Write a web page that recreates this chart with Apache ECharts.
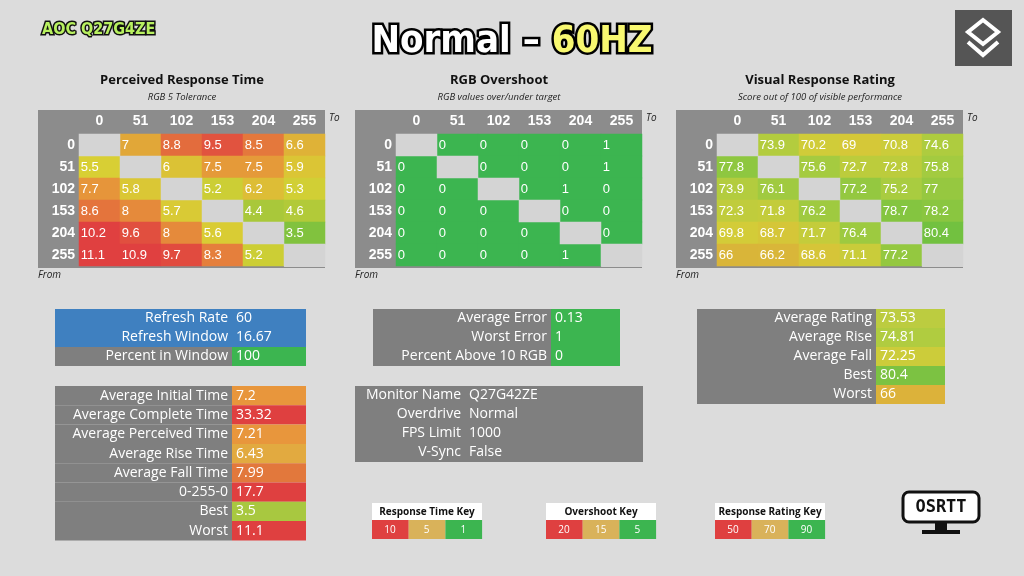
<!DOCTYPE html>
<html><head><meta charset="utf-8">
<script src="https://cdn.jsdelivr.net/npm/echarts@6/dist/echarts.min.js"></script>
<style>html,body{margin:0;padding:0;background:#dcdcdc}#c{width:1024px;height:576px}</style>
</head><body><div id="c"></div>
<script>
const levels = ['0', '51', '102', '153', '204', '255'];
// rows = from, cols = to ; null = diagonal
const responseTimes = [
  [null, 7, 8.8, 9.5, 8.5, 6.6],
  [5.5, null, 6, 7.5, 7.5, 5.9],
  [7.7, 5.8, null, 5.2, 6.2, 5.3],
  [8.6, 8, 5.7, null, 4.4, 4.6],
  [10.2, 9.6, 8, 5.6, null, 3.5],
  [11.1, 10.9, 9.7, 8.3, 5.2, null]
];
const overshoot = [
  [null, 0, 0, 0, 0, 1],
  [0, null, 0, 0, 0, 1],
  [0, 0, null, 0, 1, 0],
  [0, 0, 0, null, 0, 0],
  [0, 0, 0, 0, null, 0],
  [0, 0, 0, 0, 1, null]
];
const ratings = [
  [null, 73.9, 70.2, 69, 70.8, 74.6],
  [77.8, null, 75.6, 72.7, 72.8, 75.8],
  [73.9, 76.1, null, 77.2, 75.2, 77],
  [72.3, 71.8, 76.2, null, 78.7, 78.2],
  [69.8, 68.7, 71.7, 76.4, null, 80.4],
  [66, 66.2, 68.6, 71.1, 77.2, null]
];

const refreshLabels = ['Refresh Rate', 'Refresh Window', 'Percent in Window'];
const refreshValues = ['60', '16.67', '100'];
const timeLabels = ['Average Initial Time', 'Average Complete Time', 'Average Perceived Time', 'Average Rise Time', 'Average Fall Time', '0-255-0', 'Best', 'Worst'];
const timeValues = ['7.2', '33.32', '7.21', '6.43', '7.99', '17.7', '3.5', '11.1'];
const errorLabels = ['Average Error', 'Worst Error', 'Percent Above 10 RGB'];
const errorValues = ['0.13', '1', '0'];
const monitorLabels = ['Monitor Name', 'Overdrive', 'FPS Limit', 'V-Sync'];
const monitorValues = ['Q27G42ZE', 'Normal', '1000', 'False'];
const ratingLabels = ['Average Rating', 'Average Rise', 'Average Fall', 'Best', 'Worst'];
const ratingValues = ['73.53', '74.81', '72.25', '80.4', '66'];
const timeKey = ['10', '5', '1'];
const overshootKey = ['20', '15', '5'];
const ratingKey = ['50', '70', '90'];

const RED = '#df4040', GRN = '#3cb550', BLUE = '#3f80c0', GREY = '#7f7f7f';

function cells(m, diag) {
  const out = [];
  m.forEach((row, r) => row.forEach((v, c) => {
    if ((v === null) === diag) out.push([c, r, v === null ? 0 : v]);
  }));
  return out;
}

const grids = [{ left: 79, top: 134, width: 246, height: 132 },
  { left: 396, top: 134, width: 246, height: 132 },
  { left: 717, top: 134, width: 246, height: 132 }];
const mats = [responseTimes, overshoot, ratings];

const xAxis = [], yAxis = [], series = [];
grids.forEach((g, i) => {
  xAxis.push({ type: 'category', gridIndex: i, data: levels, position: 'top',
    axisLine: { show: false }, axisTick: { show: false }, splitLine: { show: false },
    axisLabel: { color: '#fff', fontWeight: 'bold', fontSize: 14, margin: 6 } });
  yAxis.push({ type: 'category', gridIndex: i, data: levels, inverse: true,
    axisLine: { show: false }, axisTick: { show: false }, splitLine: { show: false },
    axisLabel: { color: '#fff', fontWeight: 'bold', fontSize: 14, margin: 4 } });
  series.push({ type: 'heatmap', xAxisIndex: i, yAxisIndex: i, data: cells(mats[i], false),
    label: { show: true, position: 'insideLeft', color: '#fff', fontSize: 13, distance: 2,
      formatter: p => p.value[2] },
    itemStyle: { borderWidth: 0 } });
  series.push({ type: 'heatmap', xAxisIndex: i, yAxisIndex: i, data: cells(mats[i], true),
    itemStyle: { color: '#d4d4d4' } });
});

const visualMap = [
  { show: false, seriesIndex: 0, min: 3.2, max: 10, inRange: { color: ['#74c040', '#d8d034', '#e6943a', '#e04040'] } },
  { show: false, seriesIndex: 2, min: 0, max: 20, inRange: { color: ['#3cb550', '#3cb550', '#d9b25a', '#df4040'] } },
  { show: false, seriesIndex: 4, min: 64, max: 81, inRange: { color: ['#dca83a', '#d4cc38', '#a8cc40', '#6cc040'] } }
];

const graphic = [];
function rect(x, y, w, h, fill, z) { graphic.push({ type: 'rect', shape: { x, y, width: w, height: h }, style: { fill }, z: z || 0, silent: true }); }
function text(x, y, t, o, z) { graphic.push({ type: 'text', x, y, style: Object.assign({ text: t, fill: '#fff', fontSize: 14, fontFamily: 'Open Sans', verticalAlign: 'middle' }, o), z: z || 5, silent: true }); }

// heatmap frames + headings
const frames = [38, 355, 676];
const heads = [['Perceived Response Time', 'RGB 5 Tolerance'], ['RGB Overshoot', 'RGB values over/under target'], ['Visual Response Rating', 'Score out of 100 of visible performance']];
frames.forEach((x, i) => {
  rect(x, 110, 287, 158, '#8c8c8c');
  rect(grids[i].left + 205, 245, 41, 22, '#d4d4d4', 1);
  text(x + 144, 80, heads[i][0], { fill: '#111', fontWeight: 'bold', fontSize: 13, align: 'center' });
  text(x + 144, 97, heads[i][1], { fill: '#222', fontStyle: 'italic', fontSize: 9.5, align: 'center' });
  text(x + 291, 118, 'To', { fill: '#222', fontStyle: 'italic', fontSize: 10 });
  text(x, 275, 'From', { fill: '#222', fontStyle: 'italic', fontSize: 10 });
});

function table(x, y, w1, w2, h, labels, values, lc, vc) {
  labels.forEach((l, i) => {
    const yy = y + i * h;
    rect(x, yy, w1, h, lc[i]);
    rect(x + w1, yy, w2, h, vc[i]);
    text(x + w1 - 4, yy + h / 2, l, { align: 'right' });
    text(x + w1 + 4, yy + h / 2, values[i], {});
  });
}
table(55, 309, 177, 74, 19, refreshLabels, refreshValues, [BLUE, BLUE, GREY], [BLUE, BLUE, GRN]);
table(55, 386, 177, 74, 19.3, timeLabels, timeValues, Array(8).fill(GREY),
  ['#e8963c', RED, '#e8963c', '#e2aa40', '#e2783c', RED, '#a8c840', RED]);
table(373, 309, 178, 69, 19, errorLabels, errorValues, Array(3).fill(GREY), Array(3).fill(GRN));
table(355, 386, 110, 178, 19, monitorLabels, monitorValues, Array(4).fill(GREY), Array(4).fill(GREY));
table(697, 309, 179, 69, 19, ratingLabels, ratingValues, Array(5).fill(GREY),
  ['#bccc40', '#b0cc40', '#cccc3a', '#7cc242', '#dcb23a']);

function key(x, title, vals) {
  rect(x, 503, 110, 17, '#fff');
  text(x + 55, 512, title, { fill: '#111', fontWeight: 'bold', fontSize: 10, align: 'center' });
  [RED, '#d9b25a', GRN].forEach((c, i) => {
    rect(x + i * 36.7, 520, 36.7, 19, c);
    text(x + i * 36.7 + 18, 530, vals[i], { fontSize: 10, align: 'center' });
  });
}
key(372, 'Response Time Key', timeKey);
key(546, 'Overshoot Key', overshootKey);
key(715, 'Response Rating Key', ratingKey);

// header
text(42, 30, 'AOC Q27G4ZE', { fill: '#b8f060', fontWeight: 'bold', fontSize: 16, stroke: '#111', lineWidth: 3, fontFamily: 'DejaVu Sans Condensed' });
graphic.push({ type: 'text', x: 512, y: 42, z: 6, style: { rich: {
  a: { fill: '#fff', fontSize: 38, fontWeight: 'bold', fontFamily: 'DejaVu Sans Condensed', stroke: '#000', lineWidth: 5 },
  b: { fill: '#f8f870', fontSize: 38, fontWeight: 'bold', fontFamily: 'DejaVu Sans Condensed', stroke: '#000', lineWidth: 5 } },
  text: '{a|Normal – }{b|60HZ}', align: 'center', verticalAlign: 'middle' } });
rect(955, 10, 57, 56, '#555');
graphic.push({ type: 'polygon', shape: { points: [[983, 20], [998, 32], [983, 44], [968, 32]] }, style: { fill: 'none', stroke: '#fff', lineWidth: 4 }, z: 6 });
graphic.push({ type: 'polyline', shape: { points: [[968, 42], [983, 55], [998, 42]] }, style: { stroke: '#fff', lineWidth: 4, fill: 'none' }, z: 6 });
// OSRTT logo
graphic.push({ type: 'rect', shape: { x: 903, y: 492, width: 76, height: 30, r: 6 }, style: { fill: '#fff', stroke: '#111', lineWidth: 3 }, z: 6 });
text(941, 508, 'OSRTT', { fill: '#111', fontWeight: 'bold', fontSize: 17, align: 'center', fontFamily: 'DejaVu Sans Mono' }, 8);
rect(935, 522, 12, 8, '#111', 6);
rect(922, 530, 38, 4, '#111', 6);

const chart = echarts.init(document.getElementById('c'));
chart.setOption({
  backgroundColor: '#dcdcdc', animation: false,
  grid: grids, xAxis, yAxis, series, visualMap, graphic
});
</script></body></html>
